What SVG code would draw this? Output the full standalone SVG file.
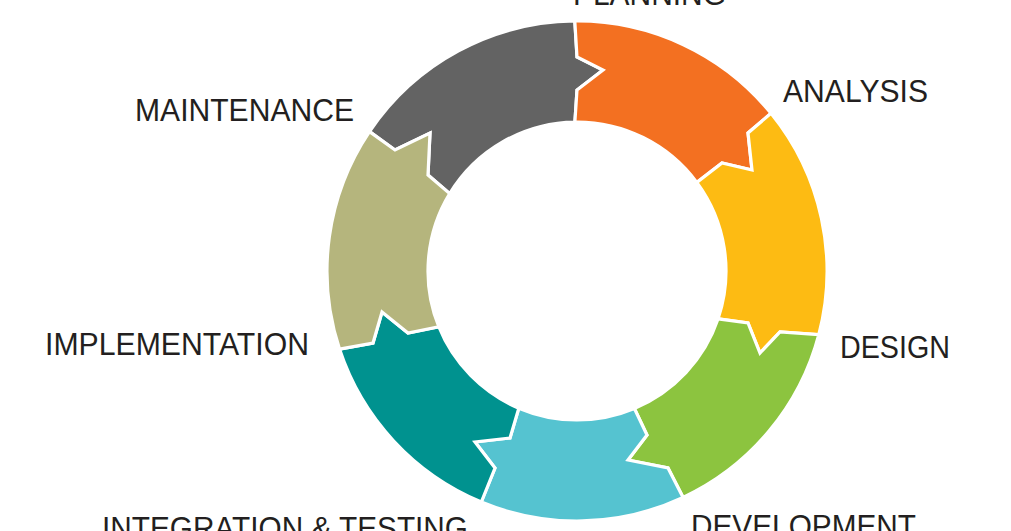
<svg xmlns="http://www.w3.org/2000/svg" width="1011" height="531" viewBox="0 0 1011 531">
<style>
.seg{stroke:#ffffff;stroke-width:3.2;stroke-linejoin:miter}
.lbl{font-family:"Liberation Sans",Arial,sans-serif;font-size:31px;fill:#231f20}
</style>
<rect width="1011" height="531" fill="#ffffff"/>
<g id="maintenance">
<path class="seg" fill="#636363" d="M369.5,131.6 A250,250 0 0 1 574.8,21 L577,57 L603,70 L577,90 L574.9,122 A149,149 0 0 0 449.7,193.6 L428,175 L430,133 L395,150 Z"/>
<text class="lbl" x="135" y="121" textLength="219" lengthAdjust="spacingAndGlyphs">MAINTENANCE</text>
</g>
<g id="planning">
<path class="seg" fill="#f37021" d="M574.8,21 A250,250 0 0 1 771,113.3 L748,133 L752,170 L722,163 L696.8,182.4 A149,149 0 0 0 574.9,122 L577,90 L603,70 L577,57 Z"/>
<text class="lbl" x="573" y="5" textLength="153" lengthAdjust="spacingAndGlyphs">PLANNING</text>
</g>
<g id="analysis">
<path class="seg" fill="#fdbb13" d="M771,113.3 A250,250 0 0 1 818.8,334.6 L780,332 L760,353 L748,323 L718.1,318.8 A149,149 0 0 0 696.8,182.4 L722,163 L752,170 L748,133 Z"/>
<text class="lbl" x="783" y="102" textLength="145" lengthAdjust="spacingAndGlyphs">ANALYSIS</text>
</g>
<g id="design">
<path class="seg" fill="#8cc43f" d="M818.8,334.6 A250,250 0 0 1 683.1,497.4 L668,468 L628,460 L647,435 L634.4,408.5 A149,149 0 0 0 718.1,318.8 L748,323 L760,353 L780,332 Z"/>
<text class="lbl" x="840" y="358" textLength="110" lengthAdjust="spacingAndGlyphs">DESIGN</text>
</g>
<g id="development">
<path class="seg" fill="#55c3d0" d="M683.1,497.4 A250,250 0 0 1 481.3,502 L495,468 L475,442 L510,438 L518.8,408.2 A149,149 0 0 0 634.4,408.5 L647,435 L628,460 L668,468 Z"/>
<text class="lbl" x="691" y="537" textLength="225" lengthAdjust="spacingAndGlyphs">DEVELOPMENT</text>
</g>
<g id="integration-testing">
<path class="seg" fill="#00928f" d="M481.3,502 A250,250 0 0 1 339.5,349.1 L373,343 L382,312 L408,333 L438.8,326.7 A149,149 0 0 0 518.8,408.2 L510,438 L475,442 L495,468 Z"/>
<text class="lbl" x="102" y="539" textLength="366" lengthAdjust="spacingAndGlyphs">INTEGRATION &amp; TESTING</text>
</g>
<g id="implementation">
<path class="seg" fill="#b5b57d" d="M339.5,349.1 A250,250 0 0 1 369.5,131.6 L395,150 L430,133 L428,175 L449.7,193.6 A149,149 0 0 0 438.8,326.7 L408,333 L382,312 L373,343 Z"/>
<text class="lbl" x="45" y="355" textLength="264" lengthAdjust="spacingAndGlyphs">IMPLEMENTATION</text>
</g>
<g id="connectors"></g>
</svg>
